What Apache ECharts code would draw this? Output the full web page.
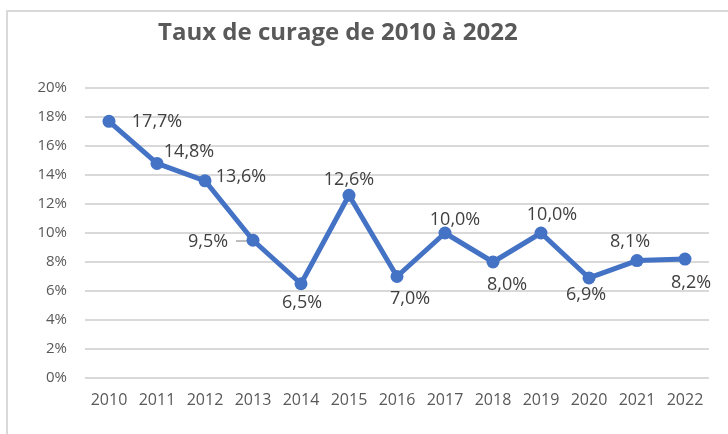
<html lang="fr">
<head>
    <meta charset="UTF-8">
    <title>Taux de curage</title>
    <script src="https://cdn.jsdelivr.net/npm/echarts@6/dist/echarts.min.js"></script>
    <style>
        html, body { margin: 0; padding: 0; background: #fff; }
    </style>
</head>
<body>
<div id="main" style="width: 728px;height:434px;"></div>
<script type="text/javascript">
    var years = ['2010', '2011', '2012', '2013', '2014', '2015', '2016', '2017', '2018', '2019', '2020', '2021', '2022'];
    var taux = [17.7, 14.8, 13.6, 9.5, 6.5, 12.6, 7.0, 10.0, 8.0, 10.0, 6.9, 8.1, 8.2];

    // décalage des étiquettes par rapport au point (centre de l'étiquette)
    var labelOffsets = [
        [48, 1], [32, -12], [36, -4], [-45, 2], [1, 19], [0, -15], [13, 22],
        [10, -13], [14, 23], [11, -18], [-3, 17], [-7, -19], [6, 24]
    ];

    var points = taux.map(function (v, i) {
        return {value: v, label: {position: 'inside', offset: labelOffsets[i]}};
    });

    var myChart = echarts.init(document.getElementById('main'));
    var option = {
        animation: false,
        textStyle: {fontFamily: 'Open Sans'},
        graphic: [{
            type: 'rect',
            shape: {x: 7, y: 11, width: 900, height: 600},
            style: {fill: 'none', stroke: '#d9d9d9', lineWidth: 2},
            silent: true
        }, {
            // petit trait de rappel de l'étiquette 9,5%
            type: 'line',
            shape: {x1: 236, y1: 241, x2: 250, y2: 241},
            style: {stroke: '#a6a6a6', lineWidth: 1.5},
            silent: true
        }],
        title: {
            text: 'Taux de curage de 2010 à 2022',
            left: 153,
            top: 16,
            textStyle: {fontSize: 24, fontWeight: 'bold', color: '#595959', fontFamily: 'Open Sans'}
        },
        grid: {left: 85, right: 19, top: 88, bottom: 56, containLabel: false},
        xAxis: {
            type: 'category',
            data: years,
            boundaryGap: true,
            axisLine: {show: false},
            axisTick: {show: false},
            axisLabel: {color: '#595959', fontSize: 16, margin: 14}
        },
        yAxis: {
            type: 'value',
            min: 0,
            max: 20,
            interval: 2,
            axisLine: {show: false},
            axisTick: {show: false},
            axisLabel: {color: '#595959', fontSize: 15, margin: 18, formatter: '{value}%'},
            splitLine: {lineStyle: {color: '#d9d9d9', width: 2}}
        },
        series: [{
            type: 'line',
            data: points,
            symbol: 'circle',
            symbolSize: 13,
            lineStyle: {color: '#4472c4', width: 5},
            itemStyle: {color: '#4472c4'},
            label: {
                show: true,
                color: '#404040',
                fontSize: 18,
                formatter: function (p) {
                    return p.value.toFixed(1).replace('.', ',') + '%';
                }
            }
        }]
    };
    myChart.setOption(option);
</script>
</body>
</html>
